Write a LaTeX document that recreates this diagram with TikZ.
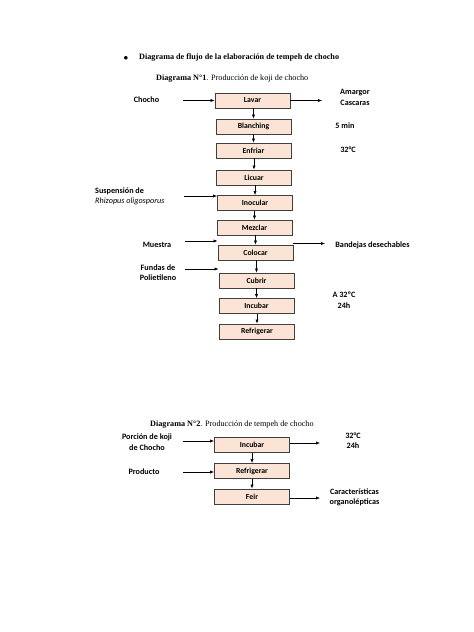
\documentclass[tikz,border=0pt]{standalone}
\usepackage{fontspec}
\setmainfont{Liberation Serif}
\newfontfamily\calfont{Carlito}
\usetikzlibrary{arrows.meta}
\definecolor{boxfill}{HTML}{FBE4D5}
\definecolor{boxline}{HTML}{404040}
\tikzset{
  stepbox/.style={draw=boxline, fill=boxfill, line width=0.8pt, minimum width=75bp, minimum height=15bp, inner sep=0pt, font=\calfont\bfseries\fontsize{7.8}{8}\selectfont},
  lbl/.style={inner sep=0pt, font=\calfont\bfseries\fontsize{8.2}{10.5}\selectfont, align=center},
  arr/.style={line width=0.6pt, -{Latex[length=4pt,width=3.2pt]}},
}
\begin{document}
\begin{tikzpicture}[x=1bp,y=-1bp]
\useasboundingbox[fill=white] (0,0) rectangle (474,632);
% titles
\node[inner sep=0pt, font=\fontsize{9}{9}\selectfont] (bul) at (126,58.5) {$\bullet$};
\node[inner sep=0pt, anchor=west, font=\bfseries\fontsize{8.2}{9}\selectfont] (t0) at (139,58) {Diagrama de flujo de la elaboración de tempeh de chocho};
\node[inner sep=0pt, anchor=west, font=\fontsize{8.2}{9}\selectfont] (t1) at (156,79) {\textbf{Diagrama N°1}. Producción de koji de chocho};
% diagram 1 boxes
\node[stepbox] (lavar) at (252.5,100.5) {Lavar};
\node[stepbox] (blan) at (253.5,126.5) {Blanching};
\node[stepbox] (enf) at (253.5,150.5) {Enfriar};
\node[stepbox] (lic) at (254,177.5) {Licuar};
\node[stepbox] (ino) at (255,203) {Inocular};
\node[stepbox] (mez) at (254.5,227.5) {Mezclar};
\node[stepbox] (col) at (255.5,252.5) {Colocar};
\node[stepbox] (cub) at (256.5,280.5) {Cubrir};
\node[stepbox] (inc) at (256.5,306) {Incubar};
\node[stepbox] (ref) at (257,331.5) {Refrigerar};
\foreach \a/\b in {lavar/blan,blan/enf,enf/lic,lic/ino,ino/mez,mez/col,col/cub,cub/inc,inc/ref}
  \draw[arr] (\b.north |- \a.south) -- (\b.north);
% side labels diagram 1
\node[lbl] (chocho) at (146.5,100) {Chocho};
\node[lbl] (amargor) at (355,97.5) {Amargor\\Cascaras};
\node[lbl] (min5) at (345,125.5) {5 min};
\node[lbl] (t32a) at (348,150) {32°C};
\node[lbl, align=left, anchor=west] (susp) at (95,196.5) {Suspensión de\\{\mdseries\itshape Rhizopus oligosporus}};
\node[lbl] (muestra) at (157,245) {Muestra};
\node[lbl] (bandejas) at (372.5,245) {Bandejas desechables};
\node[lbl] (fundas) at (158,272.5) {Fundas de\\Polietileno};
\node[lbl] (a32) at (344,300) {A 32ºC\\24h};
\coordinate (cin) at (183,100.5);
\coordinate (cout) at (322,100.5);
\coordinate (sin) at (184,196);
\coordinate (min) at (185,241);
\coordinate (fin) at (185,269);
\coordinate (bout) at (325,243.5);
\draw[arr] (cin) -- (lavar.west);
\draw[arr] (lavar.east) -- (cout);
\draw[arr] (sin) -- (sin -| ino.west);
\draw[arr] (min) -- (min -| col.west);
\draw[arr] (fin) -- (fin -| cub.west);
\draw[arr] (bout -| col.east) -- (bout);
% diagram 2
\node[inner sep=0pt, anchor=west, font=\fontsize{8.2}{9}\selectfont] (t2) at (150,425) {\textbf{Diagrama N°2}. Producción de tempeh de chocho};
\node[stepbox] (inc2) at (252,445) {Incubar};
\node[stepbox] (ref2) at (252,471) {Refrigerar};
\node[stepbox] (feir) at (252,496.5) {Feir};
\draw[arr] (inc2) -- (ref2);
\draw[arr] (ref2) -- (feir);
\node[lbl] (porcion) at (147,442) {Porción de koji\\de Chocho};
\node[lbl] (producto) at (144,472) {Producto};
\node[lbl] (t32b) at (353,440.5) {32°C\\24h};
\node[lbl] (carac) at (354.5,497.5) {Características\\organolépticas};
\coordinate (pin) at (183,441);
\coordinate (prin) at (183,472);
\coordinate (iout) at (320,443);
\coordinate (fout) at (320,498);
\draw[arr] (pin) -- (pin -| inc2.west);
\draw[arr] (prin) -- (prin -| ref2.west);
\draw[arr] (iout -| inc2.east) -- (iout);
\draw[arr] (fout -| feir.east) -- (fout);
\end{tikzpicture}
\end{document}
